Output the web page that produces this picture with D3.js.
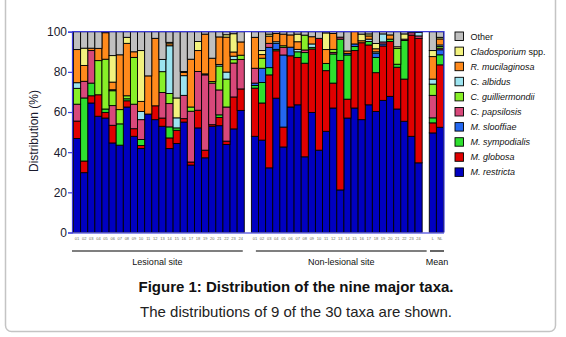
<!DOCTYPE html>
<html lang="en">
<head>
  <meta charset="UTF-8">
  <title>Distribution of the nine major taxa</title>
  <style>
    body { margin: 0; background: #fff; }
    text { font-family: Arial, 'Liberation Sans', sans-serif; }
  </style>
</head>
<body>

  <svg id="svg" width="566" height="337"></svg>

  <script src="https://d3js.org/d3.v7.min.js"></script>
  <script>
    // sample labels
    const lesional = ['01','02','03','04','05','06','07','08','09','10','11','12','13','14','15','16','17','18','19','20','21','22','23','24']
    const nonLesional = ['01','02','03','04','05','06','07','08','09','10','11','12','13','14','15','16','17','18','19','20','21','22','23','24']
    const meanLabels = ['L', 'NL']

    // % per sample: 24 lesional, 24 non-lesional, mean L, mean NL
    const restricta = [46.8, 29.8, 64.5, 57.9, 57.0, 44.6, 43.5, 62.5, 47.9, 41.8, 59.0, 56.2, 52.9, 41.8, 44.3, 55.0, 33.6, 52.1, 37.2, 52.9, 53.2, 43.8, 51.6, 60.8,
      47.9, 46.0, 32.2, 66.9, 42.6, 62.5, 63.6, 37.7, 59.8, 41.0, 50.4, 62.0, 21.2, 57.0, 62.0, 56.2, 63.6, 60.3, 65.8, 67.8, 61.5, 55.4, 47.9, 34.7,
      49.6, 52.4]
    const globosa = [8.7, 5.8, 3.6, 10.7, 2.8, 8.8, 0, 3.1, 3.8, 1.5, 0, 6.9, 4.1, 5.3, 6.6, 1.7, 1.5, 8.8, 3.8, 0.8, 4.1, 1.7, 15.9, 10.7,
      24.0, 18.5, 46.3, 23.6, 9.9, 25.5, 23.6, 46.6, 31.6, 55.7, 30.2, 12.4, 64.5, 9.4, 28.6, 38.3, 29.8, 19.3, 27.1, 27.3, 20.8, 21.0, 50.4, 62.0,
      5.0, 31.1]
    const sympodialis = [0, 31.4, 6.3, 0, 1.7, 0, 10.6, 1.0, 0, 3.0, 0, 0, 0, 5.5, 1.2, 0, 0, 0, 0, 0, 1.3, 0, 0, 0,
      1.3, 10.2, 3.6, 0.7, 0, 0, 2.8, 5.3, 0.8, 0, 3.6, 14.5, 10.6, 22.0, 2.0, 0, 1.7, 7.6, 0, 1.2, 1.5, 19.2, 0, 0,
      2.5, 5.0]
    const slooffiae = [0, 0, 0, 0, 0, 0, 0, 0, 0, 0, 0, 0, 0, 0, 0, 0, 0, 0, 0, 0, 0, 0, 0, 0,
      1.2, 7.1, 10.1, 3.0, 35.9, 4.3, 0, 0, 0, 0, 0, 0, 0, 0.8, 1.3, 0, 0, 2.1, 1.0, 0, 0, 0, 0, 0,
      0, 2.5]
    const papsilosis = [8.4, 8.3, 16.2, 0, 0, 9.8, 0, 0, 12.2, 9.9, 0, 0, 12.7, 11.6, 0, 11.6, 25.3, 19.3, 37.5, 20.7, 12.4, 17.0, 16.9, 14.7,
      7.4, 0, 2.0, 0, 3.8, 0, 0, 1.3, 0, 0, 0, 0.8, 1.0, 0, 0, 0, 0, 0, 1.0, 0, 0, 0.7, 1.2, 1.2,
      11.2, 0.8]
    const guilliermondii = [7.9, 0, 0, 17.0, 24.8, 7.4, 7.1, 1.5, 23.3, 0, 0, 0, 10.4, 5.0, 0, 0, 2.1, 0, 0, 0.8, 11.9, 13.9, 1.7, 2.1,
      0, 5.0, 0, 0, 0.8, 0, 0, 7.4, 0, 0, 0, 1.5, 0, 0, 0, 0, 0, 0, 0, 0, 7.9, 0, 0, 0,
      5.6, 0.8]
    const albidus = [2.8, 0, 0, 0, 0, 0.5, 0, 0, 0, 4.1, 0, 0, 6.1, 23.8, 5.0, 9.8, 0, 0, 0.5, 0, 0.8, 3.5, 1.7, 0,
      0, 0, 0, 0.8, 0, 0, 1.2, 0, 1.7, 0, 0, 0, 0, 0, 0, 0, 1.2, 0.7, 4.0, 0, 0, 0, 0, 1.7,
      2.5, 0.8]
    const mucilaginosa = [16.5, 7.9, 1.2, 6.1, 13.2, 3.8, 27.3, 26.1, 2.8, 5.0, 19.0, 33.6, 0, 1.0, 0, 1.6, 23.8, 10.4, 19.8, 11.6, 13.7, 17.4, 2.1, 6.6,
      15.4, 1.8, 3.6, 4.1, 5.8, 6.1, 3.8, 0, 3.6, 0, 6.9, 7.9, 0, 1.2, 6.1, 1.0, 1.6, 1.5, 0, 2.1, 0, 0, 0, 0,
      11.2, 3.0]
    const cladosporium = [0, 8.6, 0, 0, 0, 13.2, 0, 3.0, 0, 25.3, 0, 0, 0, 0.7, 9.9, 0.5, 0, 4.5, 0, 0, 0, 1.2, 9.1, 0,
      0, 2.0, 1.0, 0, 0, 0, 3.8, 0, 0, 0, 8.3, 0, 0, 0, 0, 3.3, 1.0, 2.6, 0, 0, 0.8, 2.6, 0, 0,
      3.0, 0.8]
    const other = [8.9, 8.2, 8.2, 8.3, 0.5, 11.9, 11.5, 2.8, 10.0, 9.4, 22.0, 3.3, 13.8, 5.3, 33.0, 19.8, 13.7, 4.9, 1.2, 13.2, 2.6, 1.5, 1.0, 5.1,
      2.8, 9.4, 1.2, 0.9, 1.2, 1.6, 1.2, 1.7, 2.5, 3.3, 0.6, 0.9, 2.7, 9.6, 0, 1.2, 1.1, 5.9, 1.1, 1.6, 7.5, 1.1, 0.5, 0.4,
      9.4, 2.8]

    // stacking order, bottom to top
    const taxa = ['restricta', 'globosa', 'sympodialis', 'slooffiae', 'papsilosis', 'guilliermondii', 'albidus', 'mucilaginosa', 'cladosporium', 'other']
    const taxaValues = [restricta, globosa, sympodialis, slooffiae, papsilosis, guilliermondii, albidus, mucilaginosa, cladosporium, other]
    const legendNames = [
      ['M. restricta', ''], ['M. globosa', ''], ['M. sympodialis', ''], ['M. slooffiae', ''], ['C. papsilosis', ''],
      ['C. guilliermondii', ''], ['C. albidus', ''], ['R. mucilaginosa', ''], ['Cladosporium', ' spp.'], ['', 'Other']
    ]
    const yTicks = [0, 20, 40, 60, 80, 100]

    const colorScale = d3.scaleOrdinal()
      .domain(taxa)
      .range(['#0000c0', '#e00000', '#2ee02e', '#2468f0', '#d8487a', '#88f028', '#9ce4f0', '#ff8a1c', '#f2f27e', '#c0c0c0'])

    const keys = [
      ...lesional.map(d => 'L' + d), 'gap1',
      ...nonLesional.map(d => 'N' + d), 'gap2',
      ...meanLabels.map(d => 'M' + d)
    ]
    const sampleKeys = keys.filter(k => !k.startsWith('gap'))
    const tickText = {}
    lesional.forEach(d => tickText['L' + d] = d)
    nonLesional.forEach(d => tickText['N' + d] = d)
    meanLabels.forEach(d => tickText['M' + d] = d)

    const table = sampleKeys.map((k, i) => {
      const row = { key: k }
      taxa.forEach((t, j) => row[t] = taxaValues[j][i])
      return row
    })
    const series = d3.stack().keys(taxa)(table)

    const xScale = d3.scaleBand()
      .domain(keys)
      .range([73.5, 443.5])
      .padding(0)
    const yScale = d3.scaleLinear()
      .domain([0, 100])
      .range([232.5, 31.7])

    const svg = d3.select('#svg')

    // card border
    svg.append('rect')
      .attr('x', 5.5).attr('y', -10)
      .attr('width', 550).attr('height', 341.5)
      .attr('rx', 6)
      .attr('fill', '#fff')
      .attr('stroke', '#c4c4c4')
      .attr('stroke-width', 1.5)

    // stacked bars
    const layers = svg.append('g')
      .selectAll('g')
      .data(series)
      .enter()
      .append('g')
      .attr('fill', d => colorScale(d.key))
    layers.selectAll('rect')
      .data(d => d.filter(s => s[1] - s[0] > 0))
      .enter()
      .append('rect')
      .attr('x', d => xScale(d.data.key))
      .attr('width', xScale.bandwidth())
      .attr('y', d => yScale(d[1]))
      .attr('height', d => yScale(d[0]) - yScale(d[1]))
      .attr('stroke', '#000')
      .attr('stroke-width', 0.9)

    // frame
    const frameColor = '#3a3ad8'
    svg.append('path')
      .attr('d', d3.line()([[72, yScale(100)], [444, yScale(100)], [444, yScale(0)]]))
      .attr('fill', 'none')
      .attr('stroke', frameColor)
      .attr('stroke-width', 1.2)
    svg.append('line')
      .attr('x1', 72).attr('x2', 444)
      .attr('y1', yScale(0) + 0.5).attr('y2', yScale(0) + 0.5)
      .attr('stroke', '#6a6ae6')
      .attr('stroke-width', 1.5)

    // y axis
    const yAxis = svg.append('g')
      .attr('transform', 'translate(72,0)')
      .call(d3.axisLeft(yScale).tickValues(yTicks).tickSize(4).tickFormat(d3.format('d')))
    yAxis.select('.domain').attr('stroke', frameColor).attr('stroke-width', 1.2)
    yAxis.selectAll('.tick line').attr('stroke', frameColor).attr('stroke-width', 1.2)
    yAxis.selectAll('.tick text')
      .attr('x', -5)
      .style('font-size', '12px')
      .style('font-family', 'Arial, "Liberation Sans", sans-serif')
      .attr('fill', '#1a1a2e')

    svg.append('text')
      .attr('transform', 'translate(38,131) rotate(-90)')
      .attr('text-anchor', 'middle')
      .style('font-size', '12px')
      .attr('fill', '#1a1a2e')
      .text('Distribution (%)')

    // tiny sample labels
    svg.append('g')
      .selectAll('text')
      .data(sampleKeys)
      .enter()
      .append('text')
      .attr('x', d => xScale(d) + xScale.bandwidth() / 2)
      .attr('y', 239.5)
      .attr('text-anchor', 'middle')
      .style('font-size', '4px')
      .attr('fill', '#6b6b5a')
      .text(d => tickText[d])

    // group lines and labels
    const bw = xScale.bandwidth()
    const groups = [
      { label: 'Lesional site', x1: xScale('L01') - 1.5, x2: xScale('L24') + bw - 1.5 },
      { label: 'Non-lesional site', x1: xScale('N01') + 4.5, x2: xScale('N24') + bw + 4.5 },
      { label: 'Mean', x1: xScale('ML') + 0.7, x2: xScale('MNL') + bw + 0.5 }
    ]
    const g = svg.append('g')
    g.selectAll('line')
      .data(groups)
      .enter()
      .append('line')
      .attr('x1', d => d.x1).attr('x2', d => d.x2)
      .attr('y1', 251).attr('y2', 251)
      .attr('stroke', '#000')
      .attr('stroke-width', 1.2)
    g.selectAll('text')
      .data(groups)
      .enter()
      .append('text')
      .attr('x', d => (d.x1 + d.x2) / 2)
      .attr('y', 265)
      .attr('text-anchor', 'middle')
      .style('font-size', '9px')
      .attr('fill', '#111')
      .text(d => d.label)

    // legend, top item first
    const legend = svg.append('g')
      .selectAll('g')
      .data(taxa.slice().reverse())
      .enter()
      .append('g')
      .attr('transform', (d, i) => `translate(455,${32 + i * 15.1})`)
    legend.append('rect')
      .attr('width', 8.5).attr('height', 8.5)
      .attr('fill', d => colorScale(d))
      .attr('stroke', '#000')
      .attr('stroke-width', 0.9)
    const legendText = legend.append('text')
      .attr('x', 15.5)
      .attr('y', 7.5)
      .style('font-size', '9px')
      .attr('fill', '#111')
    legendText.append('tspan')
      .style('font-style', 'italic')
      .text(d => legendNames[taxa.indexOf(d)][0])
    legendText.append('tspan')
      .text(d => legendNames[taxa.indexOf(d)][1])

    // caption
    svg.append('text')
      .attr('x', 296).attr('y', 292)
      .attr('text-anchor', 'middle')
      .style('font-size', '15px')
      .style('font-weight', 'bold')
      .attr('fill', '#111')
      .text('Figure 1: Distribution of the nine major taxa.')
    svg.append('text')
      .attr('x', 296).attr('y', 317)
      .attr('text-anchor', 'middle')
      .style('font-size', '15px')
      .attr('fill', '#222')
      .text('The distributions of 9 of the 30 taxa are shown.')
  </script>
</body>
</html>
